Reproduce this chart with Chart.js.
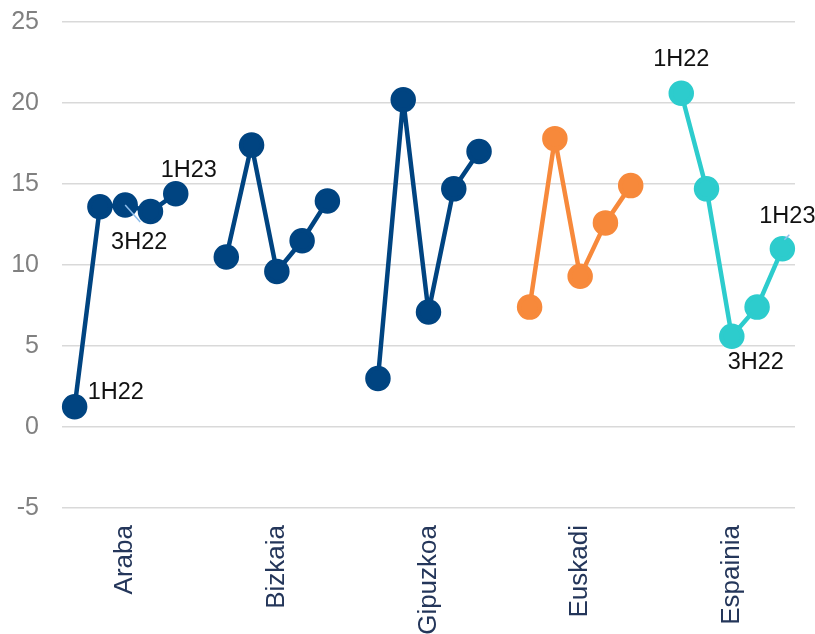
<!DOCTYPE html>
<html>
<head>
<meta charset="utf-8">
<script src="https://cdn.jsdelivr.net/npm/chart.js@4"></script>
<style>
  html, body { margin: 0; padding: 0; background: #ffffff; }
  #wrap { position: relative; width: 815px; height: 634px; }
</style>
</head>
<body>
<div id="wrap"><canvas id="c" width="815" height="634"></canvas></div>
<script>
// Regions and half-year periods (1H22 .. 1H23)
const regions = ['Araba', 'Bizkaia', 'Gipuzkoa', 'Euskadi', 'Espainia'];
const periods = ['1H22', '2H22', '3H22', '4H22', '1H23'];

// Values per region, one per period
const araba    = [1.25, 13.6, 13.7, 13.3, 14.4];
const bizkaia  = [10.5, 17.4, 9.6, 11.5, 13.95];
const gipuzkoa = [3.0, 20.2, 7.1, 14.7, 17.0];
const euskadi  = [7.4, 17.8, 9.3, 12.6, 14.9];
const espainia = [20.6, 14.7, 5.6, 7.4, 11.0];

// Y axis tick range
const yMin = -5, yMax = 25, yStep = 5;

const seriesValues = [araba, bizkaia, gipuzkoa, euskadi, espainia];
const seriesColors = ['#004481', '#004481', '#004481', '#F7893B', '#2DCCCD'];

// Period labels written next to selected points
const pointNotes = [
  { region: 0, period: 0, text: '1H22', dx: 13, dy: -14, align: 'left' },
  { region: 0, period: 2, text: '3H22', dx: 14, dy: 37, align: 'center', leader: [0, 0, 15, 17] },
  { region: 0, period: 4, text: '1H23', dx: 13, dy: -23, align: 'center' },
  { region: 4, period: 0, text: '1H22', dx: 0, dy: -34, align: 'center' },
  { region: 4, period: 2, text: '3H22', dx: 24, dy: 26, align: 'center' },
  { region: 4, period: 4, text: '1H23', dx: 5, dy: -32, align: 'center', leader: [2, -9, 7, -14] }
];

// One slot per period plus an empty slot between regions
const slotsPerRegion = periods.length + 1;
const totalSlots = regions.length * slotsPerRegion - 1;
const slotLabels = [];
for (let i = 0; i < totalSlots; i++) {
  const r = Math.floor(i / slotsPerRegion), k = i % slotsPerRegion;
  slotLabels.push(k < periods.length ? regions[r] + ' ' + periods[k] : '');
}

const datasets = seriesValues.map((vals, r) => {
  const data = new Array(totalSlots).fill(null);
  vals.forEach((v, k) => { data[r * slotsPerRegion + k] = v; });
  return {
    label: regions[r],
    data: data,
    borderColor: seriesColors[r],
    backgroundColor: seriesColors[r],
    pointBackgroundColor: seriesColors[r],
    pointBorderColor: seriesColors[r],
    pointRadius: 10.5,
    pointHoverRadius: 10.5,
    borderWidth: 4.5,
    borderJoinStyle: 'round',
    borderCapStyle: 'round',
    spanGaps: false,
    tension: 0
  };
});

const notesPlugin = {
  id: 'notes',
  afterDatasetsDraw(chart) {
    const ctx = chart.ctx;
    ctx.save();
    pointNotes.forEach(n => {
      const el = chart.getDatasetMeta(n.region).data[n.region * slotsPerRegion + n.period];
      if (!el) return;
      const x = el.x, y = el.y;
      if (n.leader) {
        ctx.strokeStyle = '#8DBDEB';
        ctx.lineWidth = 1.5;
        ctx.beginPath();
        ctx.moveTo(x + n.leader[0], y + n.leader[1]);
        ctx.lineTo(x + n.leader[2], y + n.leader[3]);
        ctx.stroke();
      }
      ctx.fillStyle = '#111111';
      ctx.font = '23.5px "Liberation Sans", Arial, sans-serif';
      ctx.textAlign = n.align;
      ctx.textBaseline = 'middle';
      ctx.fillText(n.text, x + n.dx, y + n.dy);
    });
    ctx.restore();
  }
};

new Chart(document.getElementById('c'), {
  type: 'line',
  data: { labels: slotLabels, datasets: datasets },
  options: {
    responsive: false,
    animation: false,
    devicePixelRatio: 1,
    layout: { padding: { top: 22, right: 20, left: 0, bottom: 0 } },
    plugins: {
      legend: { display: false },
      tooltip: { enabled: false }
    },
    events: [],
    scales: {
      x: {
        type: 'category',
        offset: true,
        grid: { display: false, drawTicks: false },
        border: { display: false },
        afterFit(scale) {
          scale.height = 126;
          scale.paddingLeft = 0;
          scale.paddingRight = 0;
        },
        ticks: {
          autoSkip: false,
          minRotation: 90,
          maxRotation: 90,
          padding: 17,
          color: '#24365A',
          font: { family: '"Liberation Sans", Arial, sans-serif', size: 26 },
          callback(value, index) {
            const k = index % slotsPerRegion;
            return k === 2 ? regions[Math.floor(index / slotsPerRegion)] : '';
          }
        }
      },
      y: {
        min: yMin,
        max: yMax,
        afterFit(scale) {
          scale.width = 62;
          scale.paddingTop = 0;
          scale.paddingBottom = 0;
        },
        grid: { color: '#D9D9D9', lineWidth: 1.5, drawTicks: false },
        border: { display: false },
        ticks: {
          stepSize: yStep,
          padding: 23,
          color: '#808080',
          font: { family: '"Liberation Sans", Arial, sans-serif', size: 25 }
        }
      }
    }
  },
  plugins: [notesPlugin]
});
</script>
</body>
</html>
